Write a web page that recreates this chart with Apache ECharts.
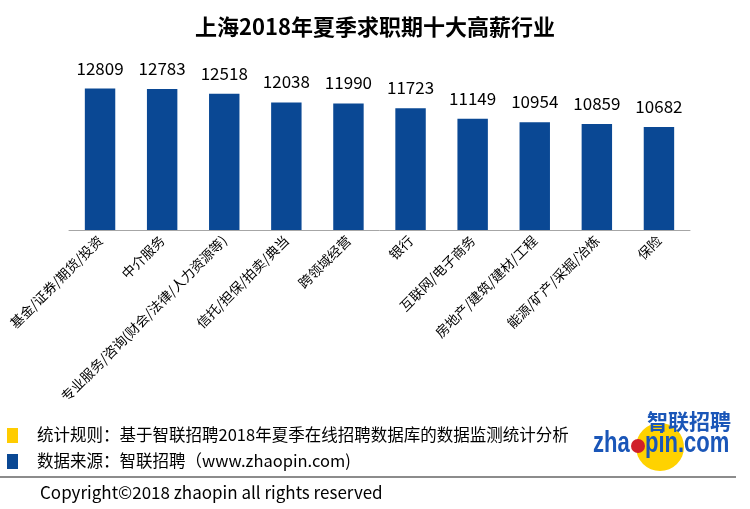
<!DOCTYPE html>
<html><head><meta charset="utf-8">
<script src="https://cdn.jsdelivr.net/npm/echarts@6/dist/echarts.min.js"></script>
<style>html,body{margin:0;padding:0;background:#fff}#c{width:750px;height:509px}</style>
</head><body><div id="c"></div>
<script>
const title = '上海2018年夏季求职期十大高薪行业';
const categories = ['基金/证券/期货/投资','中介服务','专业服务/咨询(财会/法律/人力资源等)','信托/担保/拍卖/典当','跨领域经营','银行','互联网/电子商务','房地产/建筑/建材/工程','能源/矿产/采掘/冶炼','保险'];
const salaries = [12809, 12783, 12518, 12038, 11990, 11723, 11149, 10954, 10859, 10682];
const noteRule = '统计规则：基于智联招聘2018年夏季在线招聘数据库的数据监测统计分析';
const noteSource = '数据来源：智联招聘（www.zhaopin.com)';
const copyright = 'Copyright©2018 zhaopin all rights reserved';

const font = '"Noto Sans CJK SC","Noto Sans",sans-serif';
const chart = echarts.init(document.getElementById('c'));
chart.setOption({
  animation: false,
  title: { text: title, left: 'center', top: 11, textStyle: { fontFamily: font, fontSize: 22, fontWeight: 'bold', color: '#000' } },
  grid: { left: 69, right: 60, top: 67, height: 163 },
  xAxis: {
    type: 'category', data: categories,
    axisLine: { lineStyle: { color: '#a6a6a6' } },
    axisTick: { length: 5, lineStyle: { color: '#a6a6a6' } },
    axisLabel: { rotate: 45, interval: 0, fontFamily: font, fontSize: 13.5, color: '#000', margin: 8 }
  },
  yAxis: { type: 'value', min: 5000, max: 14000, show: false, splitLine: { show: false } },
  series: [{
    type: 'bar', data: salaries, barWidth: '49%',
    itemStyle: { color: '#0a4894' },
    label: { show: true, position: 'top', distance: 12, fontFamily: font, fontSize: 17, color: '#000' }
  }],
  graphic: [
    { type: 'rect', shape: { x: 7, y: 428, width: 11, height: 15 }, style: { fill: '#ffcc00' } },
    { type: 'rect', shape: { x: 7, y: 454, width: 11, height: 15 }, style: { fill: '#0a4894' } },
    { type: 'text', left: 37, top: 426, style: { text: noteRule, font: '16.5px ' + font, fill: '#000' } },
    { type: 'text', left: 37, top: 452, style: { text: noteSource, font: '16.5px ' + font, fill: '#000' } },
    { type: 'rect', shape: { x: 0, y: 476, width: 736, height: 2 }, style: { fill: '#8c8c8c' } },
    { type: 'text', left: 40, top: 484, style: { text: copyright, font: '17px ' + font, fill: '#000' } },
    { type: 'circle', shape: { cx: 660, cy: 447, r: 24 }, style: { fill: '#ffd200' } },
    { type: 'text', left: 647, top: 411, style: { text: '智联招聘', fontFamily: font, fontSize: 21, fontWeight: 'bold', fill: '#1a56b8' } },
    { type: 'text', x: 593, y: 444, scaleY: 1.3, style: { text: 'zha', fontFamily: '"Liberation Sans",Arial,sans-serif', fontSize: 22, fontWeight: 'bold', fill: '#1a56b8', verticalAlign: 'middle' } },
    { type: 'circle', shape: { cx: 638, cy: 446, r: 7 }, style: { fill: '#d0202a' } },
    { type: 'text', x: 645, y: 444, scaleY: 1.3, style: { text: 'pin.com', fontFamily: '"Liberation Sans",Arial,sans-serif', fontSize: 22, fontWeight: 'bold', fill: '#1a56b8', verticalAlign: 'middle' } }
  ]
});
</script></body></html>
